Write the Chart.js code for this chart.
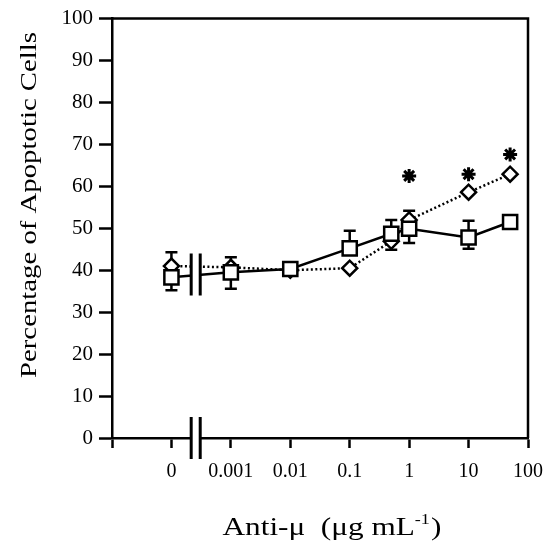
<!DOCTYPE html>
<html>
<head>
<meta charset="utf-8">
<script src="https://cdn.jsdelivr.net/npm/chart.js@4.4.1/dist/chart.umd.min.js"></script>
<style>
  html, body { margin: 0; padding: 0; background: #fff; }
  canvas { display: block; }
</style>
</head>
<body>
<canvas id="chart" width="555" height="544"></canvas>
<script>
// the "0" dose sits in the 0.0001 slot of the log axis
var doses = [0.0001, 0.001, 0.01, 0.1, 0.5, 1, 10, 50];
var squareValues = [38.3, 39.5, 40.3, 45.2, 48.7, 49.9, 47.8, 51.5];
var squareErrHigh = [44.3, 43.1, null, 49.4, 52, 54.2, 51.8, null];
var squareErrLow = [35.2, 35.6, null, null, 44.9, 46.5, 45.1, null];
var diamondValues = [41, 40.7, 40, 40.5, 46.9, 52, 58.6, 62.9];
var starDoses = [1, 10, 50];
var starValues = [62.5, 62.9, 67.6];
var xTickValues = [0.00001, 0.0001, 0.001, 0.01, 0.1, 1, 10, 100];
var xTickLabels = ['', '0', '0.001', '0.01', '0.1', '1', '10', '100'];
var breakDoses = [0.000215, 0.000305];

var serif = '"Liberation Serif", "Times New Roman", serif';

function points(xs, ys) {
  return xs.map(function(x, i) { return { x: x, y: ys[i] }; });
}

var errorBars = {
  id: 'errorBars',
  beforeDatasetsDraw: function(chart) {
    var ctx = chart.ctx;
    var xs = chart.scales.x, ys = chart.scales.y;
    ctx.save();
    ctx.strokeStyle = '#000';
    ctx.lineWidth = 2.5;
    doses.forEach(function(d, i) {
      var px = xs.getPixelForValue(d);
      var py = ys.getPixelForValue(squareValues[i]);
      [squareErrHigh[i], squareErrLow[i]].forEach(function(v) {
        if (v === null) return;
        var pe = ys.getPixelForValue(v);
        ctx.beginPath();
        ctx.moveTo(px, py);
        ctx.lineTo(px, pe);
        ctx.moveTo(px - 6, pe);
        ctx.lineTo(px + 6, pe);
        ctx.stroke();
      });
    });
    ctx.restore();
  }
};

var decorations = {
  id: 'decorations',
  afterDraw: function(chart) {
    var ctx = chart.ctx, a = chart.chartArea;
    var xs = chart.scales.x, ys = chart.scales.y;
    ctx.save();
    ctx.strokeStyle = '#000';
    ctx.lineWidth = 2.5;

    // top and right side of the frame
    ctx.beginPath();
    ctx.moveTo(a.left - 1, a.top);
    ctx.lineTo(a.right, a.top);
    ctx.lineTo(a.right, a.bottom);
    ctx.stroke();

    // axis break between 0 and 0.001
    var b1 = xs.getPixelForValue(breakDoses[0]);
    var b2 = xs.getPixelForValue(breakDoses[1]);
    ctx.lineWidth = 3;
    [[34, 44], [-5, 5]].forEach(function(span) {
      var top = ys.getPixelForValue(span[1]);
      var bottom = ys.getPixelForValue(span[0]);
      ctx.fillStyle = '#fff';
      ctx.fillRect(b1, top, b2 - b1, bottom - top);
      ctx.beginPath();
      ctx.moveTo(b1, top); ctx.lineTo(b1, bottom);
      ctx.moveTo(b2, top); ctx.lineTo(b2, bottom);
      ctx.stroke();
    });

    ctx.fillStyle = '#000';

    // y title, stretched to the length it has in the figure
    var yTitle = 'Percentage of Apoptotic Cells';
    ctx.font = '24px ' + serif;
    var s = 346 / ctx.measureText(yTitle).width;
    ctx.save();
    ctx.translate(36, 205);
    ctx.rotate(-Math.PI / 2);
    ctx.scale(s, 1);
    ctx.textAlign = 'center';
    ctx.textBaseline = 'alphabetic';
    ctx.fillText(yTitle, 0, 0);
    ctx.restore();

    // x title with superscript
    var main = 'Anti-\u03bc  (\u03bcg mL', sup = '-1', tail = ')';
    var big = '26px ' + serif, small = '15px ' + serif;
    ctx.font = big;
    var w1 = ctx.measureText(main).width, w3 = ctx.measureText(tail).width;
    ctx.font = small;
    var w2 = ctx.measureText(sup).width;
    var total = w1 + w2 + w3 + 1;
    var sx = 219 / total;
    ctx.save();
    ctx.translate(332 - 219 / 2, 535);
    ctx.scale(sx, 1);
    ctx.textAlign = 'left';
    ctx.textBaseline = 'alphabetic';
    ctx.font = big;
    ctx.fillText(main, 0, 0);
    ctx.font = small;
    ctx.fillText(sup, w1, -11);
    ctx.font = big;
    ctx.fillText(tail, w1 + w2 + 1, 0);
    ctx.restore();

    ctx.restore();
  }
};

new Chart(document.getElementById('chart').getContext('2d'), {
  type: 'scatter',
  data: {
    datasets: [
      {
        data: points(doses, squareValues),
        showLine: true,
        borderColor: '#000',
        borderWidth: 2.5,
        pointStyle: 'rect',
        pointRadius: 10,
        pointBackgroundColor: '#fff',
        pointBorderColor: '#000',
        pointBorderWidth: 2.5
      },
      {
        data: points(doses, diamondValues),
        showLine: true,
        borderColor: '#000',
        borderWidth: 2.5,
        borderDash: [2, 2.5],
        pointStyle: 'rectRot',
        pointRadius: 7.5,
        pointBackgroundColor: '#fff',
        pointBorderColor: '#000',
        pointBorderWidth: 2.5
      },
      {
        data: points(starDoses, starValues),
        showLine: false,
        pointStyle: 'star',
        pointRadius: 7,
        pointBorderColor: '#000',
        pointBorderWidth: 3
      }
    ]
  },
  options: {
    responsive: false,
    animation: false,
    devicePixelRatio: 1,
    layout: { padding: { top: 16, right: 19, left: 0, bottom: 0 } },
    plugins: { legend: { display: false }, tooltip: { enabled: false } },
    scales: {
      x: {
        type: 'logarithmic',
        min: 0.00001,
        max: 100,
        afterBuildTicks: function(scale) {
          scale.ticks = xTickValues.map(function(v) { return { value: v }; });
        },
        afterFit: function(scale) { scale.height = 106; },
        grid: { drawOnChartArea: false, tickLength: 10, tickWidth: 2.5, tickColor: '#000' },
        border: { color: '#000', width: 2.5 },
        ticks: {
          autoSkip: false,
          maxRotation: 0,
          padding: 12,
          color: '#000',
          font: { family: serif, size: 20 },
          callback: function(value, index) { return xTickLabels[index]; }
        }
      },
      y: {
        min: 0,
        max: 100,
        afterFit: function(scale) { scale.width = 112; },
        grid: { drawOnChartArea: false, tickLength: 13, tickWidth: 2.5, tickColor: '#000' },
        border: { color: '#000', width: 2.5 },
        ticks: {
          stepSize: 10,
          padding: 6,
          color: '#000',
          font: { family: serif, size: 21 }
        }
      }
    }
  },
  plugins: [errorBars, decorations]
});
</script>
</body>
</html>
